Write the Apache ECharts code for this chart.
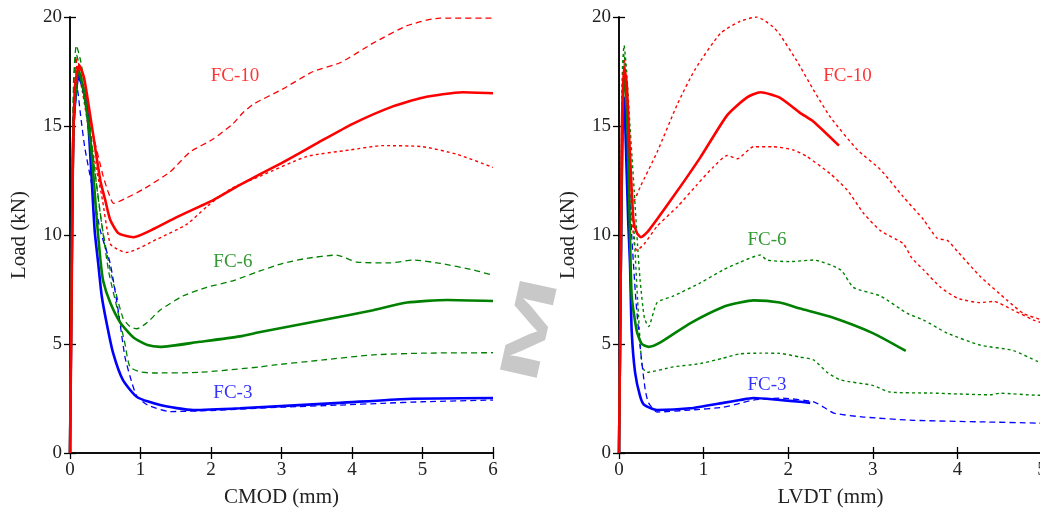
<!DOCTYPE html>
<html><head><meta charset="utf-8">
<script src="https://cdn.jsdelivr.net/npm/echarts@6/dist/echarts.min.js"></script>
<style>html,body{margin:0;padding:0;background:#fff}#c{width:1040px;height:510px}</style>
</head><body><div id="c"></div>
<script>
// ---- Left panel: Load vs CMOD (mm) ----
const cmodFC10 = [[0,0],[0.02,6],[0.04,13],[0.07,16.8],[0.13,17.8],[0.2,17.2],[0.3,15.2],[0.43,12.5],[0.5,11.6],[0.57,10.7],[0.68,10.1],[0.8,9.95],[0.9,9.9],[1.2,10.3],[1.5,10.8],[2.03,11.6],[2.41,12.3],[3,13.3],[3.5,14.2],[4.01,15.1],[4.58,15.9],[5,16.3],[5.57,16.55],[6,16.5]];
const cmodFC10hi = [[0,0],[0.02,7],[0.05,15],[0.1,18.1],[0.18,17],[0.3,15],[0.47,12.7],[0.55,11.9],[0.62,11.45],[0.8,11.7],[1.04,12.1],[1.42,12.9],[1.7,13.8],[2.03,14.4],[2.31,15.1],[2.45,15.6],[2.6,16.0],[3.02,16.7],[3.45,17.5],[3.83,17.9],[4.3,18.8],[4.78,19.6],[5.25,19.95],[6,19.95]];
const cmodFC10lo = [[0,0],[0.02,6],[0.05,14],[0.1,17.8],[0.18,16.5],[0.3,14.2],[0.45,11.8],[0.57,9.6],[0.7,9.3],[0.8,9.2],[1.23,9.8],[1.66,10.5],[1.94,11.3],[2.27,12.1],[2.7,12.7],[3.36,13.6],[3.97,13.9],[4.44,14.1],[5.0,14.05],[5.49,13.7],[6,13.1]];
const cmodFC6 = [[0,0],[0.02,7],[0.05,15],[0.12,17.6],[0.2,16.5],[0.3,14],[0.38,10.7],[0.43,8.9],[0.47,7.9],[0.57,6.9],[0.71,6.0],[0.9,5.3],[1.1,4.95],[1.28,4.87],[1.84,5.1],[2.41,5.35],[2.7,5.55],[3.59,6.1],[4.3,6.55],[4.78,6.9],[5.35,7.02],[6,6.97]];
const cmodFC6hi = [[0,0],[0.02,8],[0.05,17],[0.09,18.7],[0.15,18],[0.25,16],[0.35,13],[0.45,10.5],[0.57,8.4],[0.75,6.2],[0.85,5.8],[0.95,5.7],[1.1,6.0],[1.28,6.56],[1.6,7.2],[1.94,7.6],[2.31,7.9],[2.65,8.3],[3.02,8.7],[3.36,8.93],[3.78,9.08],[4.07,8.76],[4.54,8.72],[4.87,8.85],[5.25,8.7],[5.72,8.4],[6,8.15]];
const cmodFC6lo = [[0,0],[0.02,8],[0.05,16.5],[0.09,18.3],[0.15,17.5],[0.25,15.5],[0.35,13],[0.45,10.5],[0.55,8.3],[0.67,6.6],[0.78,5.0],[0.85,3.95],[1.0,3.72],[1.18,3.67],[1.84,3.7],[2.7,3.95],[2.88,4.03],[3.59,4.27],[4.3,4.5],[5,4.58],[6,4.6]];
const cmodFC3 = [[0,0],[0.02,7],[0.05,15],[0.12,17.3],[0.18,16.8],[0.25,15.5],[0.3,13],[0.35,10.2],[0.4,8.7],[0.45,7.2],[0.52,5.95],[0.61,4.6],[0.75,3.35],[0.95,2.57],[1.28,2.2],[1.75,1.97],[2.41,2.05],[3.83,2.3],[4.78,2.48],[6,2.52]];
const cmodFC3b = [[0,0],[0.02,7],[0.05,14.5],[0.1,16.8],[0.15,15.5],[0.21,14],[0.31,12.3],[0.43,10.2],[0.57,8.7],[0.69,6.4],[0.78,4.4],[0.88,3.2],[0.95,2.6],[1.1,2.2],[1.42,1.9],[2,1.95],[3,2.1],[3.83,2.2],[4.44,2.28],[5,2.35],[6,2.43]];

// ---- Right panel: Load vs LVDT (mm) ----
const lvdtFC10 = [[0,0],[0.02,8],[0.035,15],[0.06,17.7],[0.09,17],[0.12,14.5],[0.17,10.7],[0.21,10.1],[0.26,9.9],[0.35,10.2],[0.64,11.75],[0.96,13.55],[1.28,15.5],[1.51,16.3],[1.67,16.55],[1.9,16.3],[2.14,15.6],[2.3,15.2],[2.6,14.1]];
const lvdtFC10hi = [[0,0],[0.02,9],[0.04,16],[0.06,18.1],[0.09,16.5],[0.13,13],[0.17,11.5],[0.25,12.2],[0.45,13.8],[0.69,16.0],[0.9,17.6],[1.2,19.25],[1.43,19.8],[1.63,20],[1.82,19.55],[1.9,19.2],[2.1,18.0],[2.3,16.65],[2.5,15.4],[2.82,13.9],[3.09,13.0],[3.36,11.75],[3.6,10.7],[3.76,9.85],[3.88,9.75],[4.0,9.25],[4.27,8.1],[4.59,7.0],[4.78,6.4],[5.0,6.1],[5.05,6.0]];
const lvdtFC10lo = [[0,0],[0.02,8],[0.04,15.5],[0.06,17.9],[0.09,16],[0.13,12],[0.18,9.6],[0.21,9.3],[0.3,9.6],[0.45,10.4],[0.69,11.3],[0.92,12.3],[1.11,13.1],[1.28,13.65],[1.4,13.5],[1.59,14.05],[1.82,14.05],[2.06,13.9],[2.22,13.6],[2.5,12.8],[2.7,12.05],[2.89,11.0],[3.09,10.2],[3.36,9.6],[3.46,8.95],[3.6,8.4],[3.8,7.6],[4.0,7.1],[4.27,6.9],[4.43,6.95],[4.66,6.55],[4.9,6.1],[5.05,5.9]];
const lvdtFC6 = [[0,0],[0.02,8],[0.04,15.5],[0.07,17.5],[0.1,15],[0.13,10],[0.15,7.2],[0.21,5.6],[0.27,5.0],[0.35,4.87],[0.5,5.1],[0.84,5.95],[1.23,6.7],[1.43,6.9],[1.59,7.0],[1.9,6.9],[2.14,6.63],[2.5,6.25],[3.0,5.5],[3.39,4.68]];
const lvdtFC6hi = [[0,0],[0.02,10],[0.04,17.5],[0.06,18.7],[0.09,17.5],[0.13,15],[0.18,12],[0.22,9.5],[0.25,7.9],[0.3,6.2],[0.35,5.8],[0.45,6.9],[0.64,7.2],[0.96,7.8],[1.23,8.4],[1.43,8.75],[1.67,9.08],[1.75,8.85],[2.02,8.78],[2.3,8.85],[2.62,8.4],[2.77,7.6],[3.09,7.2],[3.41,6.4],[3.6,6.1],[3.88,5.5],[4.27,4.95],[4.66,4.7],[4.95,4.2],[5.05,4.1]];
const lvdtFC6lo = [[0,0],[0.02,9],[0.04,17],[0.06,18.3],[0.09,17],[0.13,14],[0.18,10],[0.22,7],[0.26,4.5],[0.28,3.9],[0.33,3.7],[0.64,3.95],[0.96,4.1],[1.23,4.35],[1.43,4.55],[1.67,4.58],[1.9,4.57],[2.14,4.4],[2.3,4.27],[2.46,3.7],[2.62,3.35],[3.0,3.1],[3.2,2.8],[3.68,2.75],[4.39,2.67],[4.5,2.74],[4.95,2.65],[5.05,2.65]];
const lvdtFC3 = [[0,0],[0.02,8],[0.04,14.5],[0.06,16.3],[0.09,13],[0.11,10.5],[0.13,8.7],[0.15,5.6],[0.19,3.7],[0.25,2.6],[0.3,2.2],[0.45,1.97],[0.84,2.05],[1.23,2.3],[1.43,2.43],[1.59,2.52],[1.9,2.43],[2.14,2.35],[2.26,2.3]];
const lvdtFC3b = [[0,0],[0.02,7],[0.04,14],[0.06,15.8],[0.1,14],[0.15,10],[0.2,7],[0.25,4.87],[0.31,2.9],[0.35,2.3],[0.45,1.88],[0.84,1.97],[1.23,2.1],[1.43,2.28],[1.59,2.43],[1.9,2.52],[2.3,2.35],[2.42,2.1],[2.54,1.83],[2.89,1.65],[3.48,1.5],[4.27,1.43],[4.95,1.37],[5.05,1.36]];

// ---- Annotations (text, x, y in data units) ----
const cmodLabels = [['FC-10', 2.34, 17.3], ['FC-6', 2.31, 8.76], ['FC-3', 2.31, 2.75]];
const lvdtLabels = [['FC-10', 2.7, 17.3], ['FC-6', 1.75, 9.77], ['FC-3', 1.75, 3.12]];

const xTicksCMOD = [0, 6, 1];
const xTicksLVDT = [0, 5, 1];
const yTicks = [0, 20, 5];
const yName = 'Load (kN)';

const RED = '#ff0000', GREEN = '#008000', BLUE = '#0000ff';
const FONT = '"Liberation Serif", "DejaVu Serif", serif';
const labelColors = {'FC-10': RED, 'FC-6': GREEN, 'FC-3': BLUE};

function line(data, color, idx, kind, z) {
  let type = 'solid', width = 2.6;
  if (kind === 'dash') { type = [6, 4]; width = 1.3; }
  if (kind === 'dot') { type = [3, 3]; width = 1.4; }
  return { type: 'line', data, xAxisIndex: idx, yAxisIndex: idx, showSymbol: false, symbol: 'none',
           smooth: 0.2,
           silent: true, z: z || 2, lineStyle: { color, width, type }, animation: false };
}
function labels(list, idx) {
  return { type: 'scatter', xAxisIndex: idx, yAxisIndex: idx, symbolSize: 0, silent: true, z: 5,
    data: list.map(l => ({ value: [l[1], l[2]], label: { show: true, position: 'inside', formatter: l[0],
      color: labelColors[l[0]], fontFamily: FONT, fontSize: 19 } })), animation: false };
}

const axLine = { show: true, lineStyle: { color: '#000', width: 1.5 } };
const tick = { show: true, inside: true, length: 6, lineStyle: { color: '#000', width: 1.3 } };
const tickLbl = { color: '#222', fontFamily: FONT, fontSize: 19 };
function xAx(grid, t, name) {
  return [{ type: 'value', gridIndex: grid, min: t[0], max: t[1], interval: t[2], position: 'bottom',
      axisLine: axLine, axisTick: tick, splitLine: { show: false },
      axisLabel: Object.assign({ margin: 8 }, tickLbl),
      name, nameLocation: 'middle', nameGap: 34, nameTextStyle: { color: '#222', fontFamily: FONT, fontSize: 21 } },
    { type: 'value', gridIndex: grid, min: t[0], max: t[1], interval: t[2], position: 'top',
      axisLine: axLine, axisTick: tick, splitLine: { show: false }, axisLabel: { show: false } }];
}
function yAx(grid) {
  return [{ type: 'value', gridIndex: grid, min: yTicks[0], max: yTicks[1], interval: yTicks[2], position: 'left',
      axisLine: axLine, axisTick: tick, splitLine: { show: false },
      axisLabel: Object.assign({ margin: 8 }, tickLbl),
      name: yName, nameLocation: 'middle', nameGap: 40, nameRotate: 90, nameTextStyle: { color: '#222', fontFamily: FONT, fontSize: 21 } },
    { type: 'value', gridIndex: grid, min: yTicks[0], max: yTicks[1], interval: yTicks[2], position: 'right',
      axisLine: axLine, axisTick: tick, splitLine: { show: false }, axisLabel: { show: false } }];
}

const xAxes = [...xAx(0, xTicksCMOD, 'CMOD (mm)'), ...xAx(1, xTicksLVDT, 'LVDT (mm)')];
const yAxes = [...yAx(0), ...yAx(1)];

const chart = echarts.init(document.getElementById('c'), null, { renderer: 'canvas' });
chart.setOption({
  animation: false,
  backgroundColor: '#fff',
  grid: [{ left: 70, top: 17, width: 423, height: 436, outerBoundsMode: 'none', containLabel: false },
         { left: 619, top: 17, width: 423, height: 436, outerBoundsMode: 'none', containLabel: false }],
  xAxis: xAxes,
  yAxis: yAxes,
  graphic: [{ type: 'text', x: 532, y: 330, rotation: 1.35, scaleX: 2.5, scaleY: 1.05,
    style: { text: 'M', x: 0, y: 0, align: 'center', verticalAlign: 'middle', fill: '#c8c8c8', font: 'bold 52px "Liberation Sans", sans-serif' }, z: 0 }],
  series: [
    line(cmodFC10hi, RED, 0, 'dash'), line(cmodFC10lo, RED, 0, 'dot'),
    line(cmodFC6hi, GREEN, 0, 'dash'), line(cmodFC6lo, GREEN, 0, 'dash'),
    line(cmodFC3b, BLUE, 0, 'dash'),
    line(cmodFC3, BLUE, 0, 'solid', 3), line(cmodFC6, GREEN, 0, 'solid', 3), line(cmodFC10, RED, 0, 'solid', 3),
    labels(cmodLabels, 0),
    line(lvdtFC10hi, RED, 2, 'dot'), line(lvdtFC10lo, RED, 2, 'dot'),
    line(lvdtFC6hi, GREEN, 2, 'dot'), line(lvdtFC6lo, GREEN, 2, 'dot'),
    line(lvdtFC3b, BLUE, 2, 'dash'),
    line(lvdtFC3, BLUE, 2, 'solid', 3), line(lvdtFC6, GREEN, 2, 'solid', 3), line(lvdtFC10, RED, 2, 'solid', 3),
    labels(lvdtLabels, 2)
  ]
});
</script></body></html>
